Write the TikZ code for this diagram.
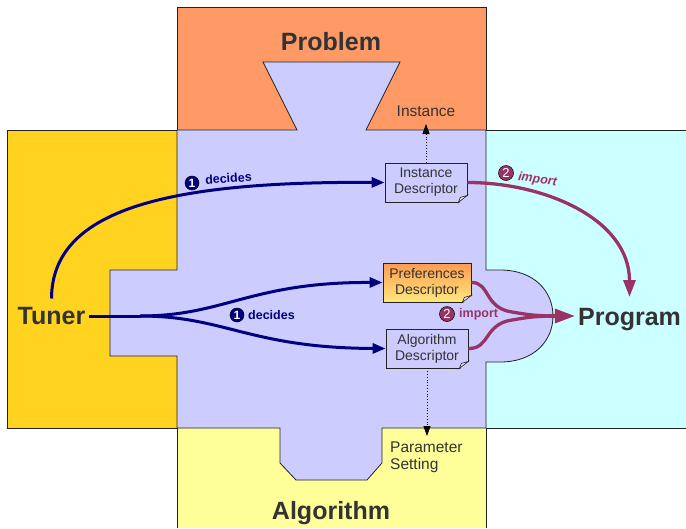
\documentclass[tikz,border=0pt]{standalone}
\usepackage{fontspec}
\setmainfont{Liberation Sans}
\usetikzlibrary{arrows.meta}

\definecolor{probc}{HTML}{FF9966}
\definecolor{tunc}{HTML}{FFD320}
\definecolor{progc}{HTML}{CCFFFF}
\definecolor{algc}{HTML}{FFFF99}
\definecolor{lav}{HTML}{CCCCFF}
\definecolor{lavlight}{HTML}{E8E8FF}
\definecolor{navyc}{HTML}{000080}
\definecolor{plum}{HTML}{993366}
\definecolor{txt}{HTML}{333333}
\definecolor{edge}{HTML}{222222}
\definecolor{prefTop}{RGB}{255,155,80}
\definecolor{prefBot}{RGB}{255,232,125}

% folded bottom-right corner of a descriptor box
\newcommand{\foldcorner}[1]{%
  \fill[lav] ([shift={(-9,1)}]#1.south east) -- ([shift={(1,1)}]#1.south east)
    -- ([shift={(1,-7)}]#1.south east) -- cycle;
  \filldraw[draw=edge, fill=lavlight, line width=0.6pt]
    ([shift={(-9,0)}]#1.south east) -- ([shift={(-7,-5)}]#1.south east)
    -- ([shift={(0,-7)}]#1.south east) -- cycle;
}

\tikzset{
  outline/.style={draw=edge, line width=0.8pt},
  bigname/.style={font=\fontsize{25}{30}\selectfont\bfseries, text=txt, anchor=base},
  desc/.style={draw=edge, line width=0.8pt, fill=lav, minimum width=82pt,
    minimum height=39pt, inner sep=0pt, align=center,
    font=\fontsize{14}{16}\selectfont, text=txt},
  plainlbl/.style={font=\fontsize{15.5}{17}\selectfont, text=txt, align=left},
  navyarr/.style={draw=navyc, line width=3pt,
    -{Triangle[length=13pt,width=10pt]}},
  plumline/.style={draw=plum, line width=3.3pt},
  dotarr/.style={draw=black, line width=0.8pt, dotted,
    -{Triangle[length=10pt,width=7pt]}},
  numone/.style={circle, fill=navyc, draw=black, line width=0.5pt, inner sep=0pt,
    minimum size=14pt, text=white, font=\fontsize{12}{12}\selectfont\bfseries},
  numtwo/.style={circle, fill=plum, draw=black, line width=0.5pt, inner sep=0pt,
    minimum size=15pt, text=white, font=\fontsize{13}{13}\selectfont},
  decword/.style={text=navyc, font=\fontsize{12.5}{14}\selectfont\bfseries,
    inner sep=0pt, anchor=west},
  impword/.style={text=plum, font=\fontsize{12.5}{14}\selectfont\bfseries,
    inner sep=0pt, anchor=west},
}

\begin{document}
\begin{tikzpicture}[x=1pt, y=-1pt]
\useasboundingbox (0,0) rectangle (686,528);

% coloured regions
\fill[probc] (177,7) rectangle (486,130);
\fill[tunc] (7,130) rectangle (177,428);
\fill[progc] (486,130) rectangle (686,428);
\fill[algc] (177,428) rectangle (486,528);

% central shared region with its extensions
\filldraw[fill=lav, outline]
  (177,130) -- (297,130) -- (263,62) -- (400,62) -- (366,130) -- (486,130)
  -- (486,270) -- (500,270)
  .. controls (535,270) and (553,292) .. (553,316)
  .. controls (553,340) and (535,362) .. (500,362)
  -- (486,362) -- (486,428) -- (382,428) -- (382,463) -- (367,480)
  -- (296,480) -- (280,463) -- (280,428) -- (177,428)
  -- (177,356) -- (110,356) -- (110,270) -- (177,270) -- cycle;

% outer borders of the regions
\draw[outline] (177,130) -- (177,7) -- (486,7) -- (486,130);
\draw[outline] (177,130) -- (7,130) -- (7,428) -- (177,428);
\draw[outline] (486,130) -- (686,130);
\draw[outline] (486,428) -- (686,428);
\draw[outline] (177,428) -- (177,528);
\draw[outline] (486,428) -- (486,528);

% region names
\node[bigname] (problem) at (331,50) {Problem};
\node[bigname] (algorithm) at (331,519) {Algorithm};
\node[bigname, inner sep=4pt] (tuner) at (51.5,324.5) {Tuner};
\node[bigname, inner sep=3pt] (program) at (629.5,325) {Program};

% descriptor boxes
\node[desc] (inst) at (426,182.5) {Instance\\Descriptor};
\node[desc, minimum width=88pt, top color=prefTop, bottom color=prefBot]
  (pref) at (427,282.5) {Preferences\\Descriptor};
\node[desc] (algo) at (427,348.5) {Algorithm\\Descriptor};
\foldcorner{inst}
\foldcorner{pref}
\foldcorner{algo}

% outputs of the descriptors
\node[plainlbl] (instlbl) at (426,111) {Instance};
\node[plainlbl, anchor=north west, inner sep=0pt] (paramlbl) at (390,442)
  {Parameter\\Setting};
\coordinate (instTip) at (426,124);
\coordinate (paramTip) at (427,436);
\draw[dotarr] (inst.north) -- (instTip);
\draw[dotarr] (algo.south) -- (paramTip);

% tuner decisions
\coordinate (split) at (140,316);
\draw[navyarr] ([yshift=26pt]tuner.base)
  .. controls (52,212) and (160,181) .. (inst.west);
\draw[draw=navyc, line width=3pt] ([yshift=8.5pt]tuner.base east) -- (split);
\draw[navyarr] (split) .. controls (225,316) and (250,282) .. (pref.west);
\draw[navyarr] (split) .. controls (225,316) and (250,348) .. (algo.west);

% imports into the program
\draw[plumline, -{Triangle[length=17pt,width=12pt]}]
  (inst.east) to[out=0, in=90] ([yshift=28pt]program.base);
\coordinate (merge) at (548,316);
\draw[plumline] (pref.east) .. controls (490,282) and (484,308) .. (512,312)
  .. controls (530,315) .. (merge);
\draw[plumline] (algo.east) .. controls (490,349) and (484,324) .. (512,320)
  .. controls (530,317) .. (merge);
\draw[plumline, -{Triangle[length=20pt,width=14pt]}]
  (merge) -- ([yshift=9pt]program.base west);

% step labels
\node[numone] (oneA) at (192,183) {1};
\node[decword, rotate=4] (decA) at (205,180) {decides};
\node[numone] (oneB) at (237,315) {1};
\node[decword] (decB) at (248,315) {decides};
\node[numtwo] (twoA) at (506,173) {2};
\node[impword, font=\fontsize{12.5}{14}\selectfont\bfseries\itshape, rotate=-8]
  (impA) at (518,177) {import};
\node[numtwo] (twoB) at (447,314) {2};
\node[impword] (impB) at (459,314) {import};
\end{tikzpicture}
\end{document}
